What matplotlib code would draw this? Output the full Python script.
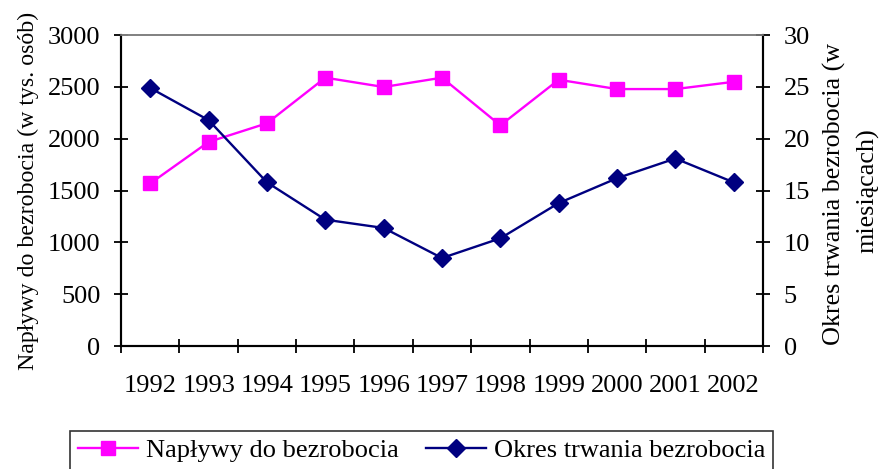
import numpy as np
import matplotlib.pyplot as plt

plt.rcParams['font.family'] = ['Liberation Serif', 'DejaVu Serif']

years = ['1992', '1993', '1994', '1995', '1996', '1997', '1998', '1999', '2000', '2001', '2002']
naplywy = [1570, 1970, 2150, 2590, 2500, 2590, 2130, 2570, 2480, 2480, 2550]
okres = [24.9, 21.8, 15.8, 12.2, 11.4, 8.5, 10.4, 13.8, 16.2, 18.1, 15.8]

fs = 19

fig = plt.figure(figsize=(8.84, 4.69), dpi=100)
ax = fig.add_axes([0.137, 0.262, 0.726, 0.663])
ax2 = ax.twinx()

x = np.arange(len(years))
l1, = ax.plot(x, naplywy, color='#FF00FF', lw=1.7, marker='s', ms=9.5,
              label='Napływy do bezrobocia')
l2, = ax2.plot(x, okres, color='#000080', lw=1.7, marker='D', ms=9.5,
               label='Okres trwania bezrobocia')

ax.set_xlim(-0.5, len(years) - 0.5)
ax.set_ylim(0, 3000)
ax2.set_ylim(0, 30)
ax.set_yticks(range(0, 3001, 500))
ax2.set_yticks(range(0, 31, 5))

# category ticks between years, labels in the middle
ax.set_xticks(np.arange(-0.5, len(years), 1.0))
ax.set_xticklabels([])
ax.set_xticks(x, minor=True)
ax.set_xticklabels(years, minor=True, fontsize=fs)
ax.tick_params(axis='x', which='major', direction='inout', length=10, width=1.3)
ax.tick_params(axis='x', which='minor', length=0, pad=21)

ax.tick_params(axis='y', direction='inout', length=10, width=1.3, labelsize=fs, pad=10)
ax2.tick_params(axis='y', direction='inout', length=10, width=1.3, labelsize=fs, pad=10)

for a in (ax, ax2):
    for s in ('left', 'right', 'bottom'):
        a.spines[s].set_linewidth(1.5)
    a.spines['top'].set_color('#808080')
    a.spines['top'].set_linewidth(1.2)

ax.set_ylabel('Napływy do bezrobocia (w tys. osób)', fontsize=17.2, labelpad=6)
ax2.set_ylabel('Okres trwania bezrobocia (w \nmiesiącach)', fontsize=18.8,
               rotation=90, labelpad=9, linespacing=1.6, multialignment='center')

leg = fig.legend(handles=[l1, l2], loc='center', bbox_to_anchor=(0.477, 0.04),
                 ncol=2, fontsize=fs, frameon=True, fancybox=False,
                 edgecolor='black', handlelength=2.3, columnspacing=1.0,
                 borderpad=0.3, handletextpad=0.3)
leg.get_frame().set_linewidth(1.2)

fig.savefig('out.png', dpi=100)
plt.close()
